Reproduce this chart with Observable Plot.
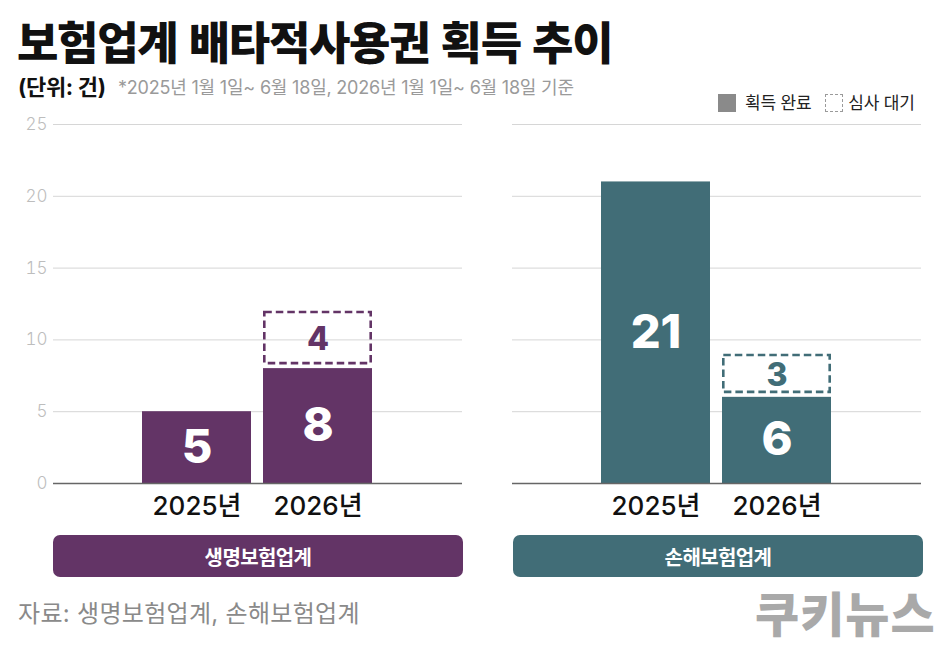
<!DOCTYPE html>
<html lang="ko">
<head>
<meta charset="utf-8">
<script src="https://cdn.jsdelivr.net/npm/d3@7"></script>
<script src="https://cdn.jsdelivr.net/npm/@observablehq/plot@0.6"></script>
<style>
  html, body { margin: 0; padding: 0; background: #fff; }
  body { width: 950px; height: 645px; position: relative; overflow: hidden;
         font-family: Inter, "Noto Sans CJK KR", "Noto Sans", sans-serif; color: #111; }
  .abs { position: absolute; white-space: nowrap; line-height: 1; }
  #title { left: 17px; top: 18px; font-family: "Noto Sans CJK KR", sans-serif; font-size: 45px; font-weight: 900; letter-spacing: -1.3px; color: #111; }
  #unit { left: 18px; top: 76px; font-size: 22px; font-weight: 700; letter-spacing: -0.3px; color: #111; }
  #note { left: 118px; top: 79px; font-size: 18px; font-weight: 400; letter-spacing: -0.2px; color: #9a9a9a; }
  #legend { left: 718px; top: 94px; font-size: 17px; display: flex; align-items: center; color: #222; letter-spacing: -0.2px; }
  #legend .sw { width: 18px; height: 18px; box-sizing: border-box; margin-right: 9px; }
  #legend .done { background: #8a8a8a; }
  #legend .pend { border: 1px dashed #9a9a9a; margin-left: 14px; margin-right: 5px; }
  #chart { position: absolute; left: 0; top: 110px; }
  .tag { position: absolute; top: 535px; height: 42px; width: 410px; border-radius: 7px;
         color: #fff; font-size: 20px; font-weight: 700; letter-spacing: -0.6px;
         display: flex; align-items: center; justify-content: center; }
  #source { left: 18px; top: 602px; font-size: 24px; color: #8a8a8a; letter-spacing: 0.3px; }
  #logo { left: 755px; top: 576px; line-height: normal; font-family: "Noto Sans CJK KR", sans-serif; font-size: 48px; font-weight: 900; color: #a9a9a9; letter-spacing: 1px; }
</style>
</head>
<body>
<div id="title" class="abs">보험업계 배타적사용권 획득 추이</div>
<div id="unit" class="abs">(단위: 건)</div>
<div id="note" class="abs">*2025년 1월 1일~ 6월 18일, 2026년 1월 1일~ 6월 18일 기준</div>
<div id="legend" class="abs"><span class="sw done"></span>획득 완료<span class="sw pend"></span>심사 대기</div>
<div id="chart"></div>
<div id="tags"></div>
<div id="source" class="abs">자료: 생명보험업계, 손해보험업계</div>
<div id="logo" class="abs">쿠키뉴스</div>
<script>
// Exclusive-use rights per insurance sector and year
const sectors = ["생명보험업계", "손해보험업계"];
const sectorColors = ["#633466", "#416d77"];
const years = ["2025년", "2026년"];
const lifeDone = [5, 8];        // granted, life insurers
const lifePending = [0, 4];     // under review, life insurers
const nonLifeDone = [21, 6];    // granted, non-life insurers
const nonLifePending = [0, 3];  // under review, non-life insurers
const yTicks = [0, 5, 10, 15, 20, 25];

const rows = [];
[[lifeDone, lifePending], [nonLifeDone, nonLifePending]].forEach(([done, pending], s) => {
  years.forEach((year, i) => rows.push({sector: sectors[s], year, done: done[i], pending: pending[i]}));
});
const pendingRows = rows.filter(d => d.pending > 0);

const font = 'Inter, "Noto Sans CJK KR", "Noto Sans", sans-serif';

const chart = Plot.plot({
  width: 950,
  height: 420,
  marginLeft: 53,
  marginRight: 28,
  marginTop: 14,
  marginBottom: 47,
  style: {fontFamily: font, background: "transparent", overflow: "visible"},
  fx: {domain: sectors, padding: 0.1087, axis: null, label: null},
  x: {domain: years, paddingInner: 0.098, paddingOuter: 0.73, axis: null, label: null},
  y: {domain: [0, 25], axis: null, label: null},
  color: {domain: sectors, range: sectorColors},
  marks: [
    Plot.gridY(yTicks, {stroke: "#d6d6d6", strokeOpacity: 1, strokeWidth: 1}),
    Plot.axisY(yTicks, {tickSize: 0, tickPadding: 6, fontSize: 17, fontWeight: 300, color: "#bdbdbd", label: null}),
    Plot.axisX({tickSize: 0, tickPadding: 13, fontSize: 26, fontWeight: 500, color: "#111", letterSpacing: -0.8, label: null}),
    Plot.barY(rows, {fx: "sector", x: "year", y: "done", fill: "sector"}),
    Plot.barY(pendingRows, {
      fx: "sector", x: "year",
      y1: d => d.done, y2: d => d.done + d.pending,
      fill: "none", stroke: "sector", strokeWidth: 2.6, strokeDasharray: "7.5,4",
      insetTop: 1.3, insetBottom: 5, insetLeft: 1.3, insetRight: 1.3
    }),
    Plot.text(rows, {
      fx: "sector", x: "year", y: d => d.done / 2, text: d => String(d.done),
      fill: "white", fontSize: 47, fontWeight: 800, letterSpacing: -2.5
    }),
    Plot.text(pendingRows, {
      fx: "sector", x: "year", y: d => d.done + d.pending / 2, text: d => String(d.pending),
      fill: "sector", fontSize: 32, fontWeight: 800
    }),
    Plot.ruleY([0], {stroke: "#666", strokeWidth: 1.5})
  ]
});
document.getElementById("chart").appendChild(chart);

// Sector name tags under each panel
const tags = document.getElementById("tags");
const tagLeft = [53, 513];
sectors.forEach((name, i) => {
  const t = document.createElement("div");
  t.className = "tag";
  t.style.left = tagLeft[i] + "px";
  t.style.background = sectorColors[i];
  t.textContent = name;
  tags.appendChild(t);
});
</script>
</body>
</html>
